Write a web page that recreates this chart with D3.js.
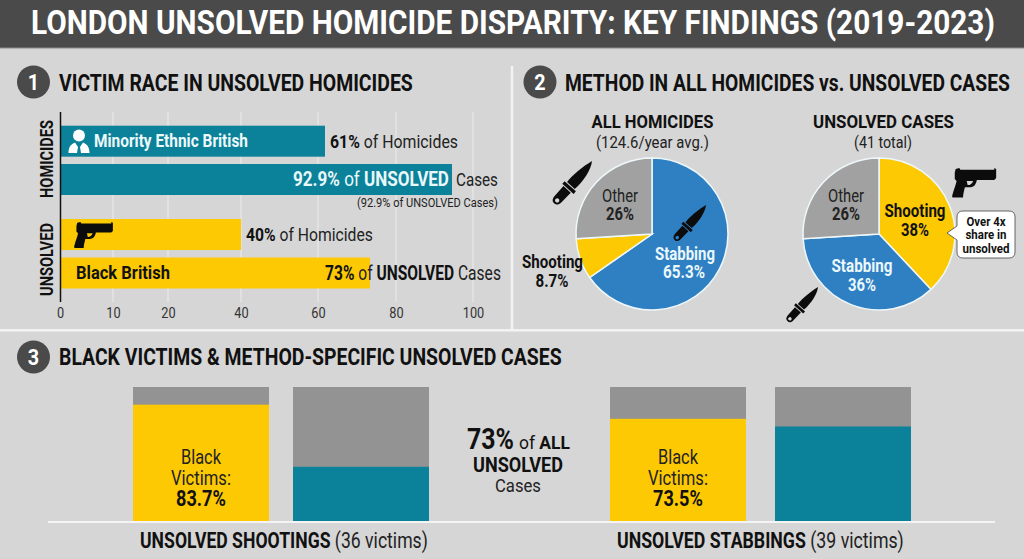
<!DOCTYPE html>
<html><head><meta charset="utf-8">
<script src="https://cdn.jsdelivr.net/npm/d3@7/dist/d3.min.js"></script>
<style>html,body{margin:0;padding:0;background:#d6d6d6}svg{display:block}text{font-family:Roboto,sans-serif}</style>
</head><body><svg id="c" width="1024" height="559"></svg>
<script>
// ---- data ----
const barLabels = ["Minority Ethnic British homicides","Minority Ethnic British unsolved","Black British homicides","Black British unsolved"];
const barValues = [61, 92.9, 40, 73];
const barTicks = [0, 10, 20, 40, 60, 80, 100];
const pieCategories = ["Stabbing", "Shooting", "Other"];
const pieAll = [65.3, 8.7, 26];
const pieUnsolvedCategories = ["Shooting", "Stabbing", "Other"];
const pieUnsolved = [38, 36, 26];
const blackShares = [83.7, 73.5];
const otherShares = [39, 68];

const TEAL="#0b8299", YEL="#fdc902", BLUE="#2f7fc3", GREY="#a1a1a1", GREY2="#939393", INK="#111";
const svg = d3.select("#c");
const pieColor = {Stabbing:BLUE, Shooting:YEL, Other:GREY};

// text helper: runs = [[string, weight]], fitted to a target width
function T(x, y, runs, o={}) {
  const g = svg.append("g").attr("transform", `translate(${x},${y})${o.rotate?` rotate(${o.rotate})`:""}`);
  const t = g.append("text").attr("font-size", o.size||14).attr("fill", o.fill||INK).attr("text-anchor", "start");
  (typeof runs === "string" ? [[runs, o.weight||400]] : runs).forEach(r => {
    t.append("tspan").text(r[0]).attr("font-weight", r[1]).attr("fill", r[2]||null);
  });
  const len = t.node().getComputedTextLength();
  const sx = o.width ? o.width/len : (o.sx||0.85);
  const w = len*sx;
  const dx = o.anchor==="middle" ? -w/2 : o.anchor==="end" ? -w : 0;
  t.attr("transform", `translate(${dx},0) scale(${sx},1)`);
  return t;
}
function badge(cx, cy, n){
  svg.append("circle").attr("cx",cx).attr("cy",cy).attr("r",16.5).attr("fill","#4a4a4a");
  T(cx, cy+8, String(n), {size:22, weight:700, fill:"#fff", anchor:"middle", sx:.9});
}
// icon outlines (tip of the knife at the origin, pointing up before rotation)
const KNIFE_BLADE="M0 0C5 7 7.5 20 6 33L-4.5 33C-5.5 25-3 10 0 0Z";
const KNIFE_GUARD="M-7 34H8.5V37.5H-7Z";
const KNIFE_HANDLE="M-4.5 38.5H5.5L5 52C5 56 3 58 0.5 58C-2.5 58-4.5 56-4.5 52ZM0.5 51.5A2.2 2.2 0 1 0 0.51 51.5Z";
function knife(x,y,s){
  const g=svg.append("g").attr("transform",`translate(${x},${y}) rotate(42) scale(${s})`).attr("fill","#0c0c0c");
  g.append("path").attr("d",KNIFE_BLADE);
  g.append("path").attr("d",KNIFE_GUARD);
  g.append("path").attr("d",KNIFE_HANDLE).attr("fill-rule","evenodd");
}
const GUN="M4 1L8 0 9 2 46 2 46 0 48 1 48 11 46 13 27 13C26 18 24 21 19 21L14 21C13 25 12 29 12 32L1 32C0 32 0 30 .5 29C2 23 4 19 5 14L3 12 3 5ZM16 14L23 14C22 17 20 18.5 17 18.5Z";
function gun(x,y,s){
  svg.append("path").attr("transform",`translate(${x},${y}) scale(${s})`).attr("d",GUN).attr("fill","#0c0c0c").attr("fill-rule","evenodd");
}

// ---- header ----
svg.append("rect").attr("width",1024).attr("height",48).attr("fill","#4a4a4a");
svg.append("rect").attr("y",47.5).attr("width",1024).attr("height",1).attr("fill","#8a8a8a");
T(31, 34, "LONDON UNSOLVED HOMICIDE DISPARITY: KEY FINDINGS (2019-2023)", {size:33.5, weight:700, fill:"#fff", width:964});

// ---- dividers ----
svg.append("rect").attr("x",0).attr("y",329).attr("width",1024).attr("height",2.6).attr("fill","#f2f2f2");
svg.append("rect").attr("x",510.7).attr("y",66).attr("width",2.6).attr("height",263).attr("fill","#f2f2f2");

// ---- section 1 ----
badge(33.5, 82, 1);
T(59, 91, "VICTIM RACE IN UNSOLVED HOMICIDES", {size:24, weight:700, width:354});

const x = d3.scaleLinear()
  .domain([0,10,20,40,60,61,73,80,92.9,100])
  .range([60,113,168,241,318,325,370,396,452,473]);
barTicks.slice(1).forEach(t => {
  svg.append("line").attr("x1",x(t)).attr("x2",x(t)).attr("y1",112).attr("y2",302).attr("stroke","#e4e4e4").attr("stroke-width",1.5);
});
const barTop = [125.7, 164, 219, 257.5];
const barG = svg.append("g");
barG.selectAll("rect").data(barValues).join("rect")
  .attr("x", x(0)).attr("y",(d,i)=>barTop[i]).attr("height",31)
  .attr("width", d=>x(d)-x(0)).attr("fill",(d,i)=>i<2?TEAL:YEL);
svg.append("line").attr("x1",60.5).attr("x2",60.5).attr("y1",112).attr("y2",302).attr("stroke","#111").attr("stroke-width",1.5);
const axis = d3.axisBottom(x).tickValues(barTicks).tickSize(0).tickPadding(0);
const ag = svg.append("g").attr("transform","translate(0,304)").call(axis);
ag.select(".domain").remove();
ag.selectAll("text").attr("font-size",14.5).attr("fill","#333").attr("font-family","Roboto").attr("y",4).attr("dy","0.71em").attr("transform","scale(.88,1)");

T(52.7, 198, "HOMICIDES", {size:19, weight:700, rotate:-90, width:78});
T(52.7, 296, "UNSOLVED", {size:19, weight:700, rotate:-90, width:73});

// person icon
const p = svg.append("g").attr("fill","#fff");
p.append("circle").attr("cx",79).attr("cy",135.5).attr("r",6);
p.append("path").attr("d","M68.5 153C68.5 147 71 144 75 142.5L78 147 77 153ZM89.5 153C89.5 147 87 144 83 142.5L80 147 81 153Z");

T(94, 147, "Minority Ethnic British", {size:19, weight:700, fill:"#eef9fb", width:154});
T(330, 147.5, [["61%",700],[" of Homicides",400,"#222"]], {size:19, width:128});
T(293, 186, [["92.9%",700,"#eaf8fb"],[" of ",400,"#eaf8fb"],["UNSOLVED",700,"#eaf8fb"]], {size:20, width:156});
T(456, 186, "Cases", {size:19, width:42, fill:"#222"});
T(357, 207, "(92.9% of UNSOLVED Cases)", {size:13.5, fill:"#222", width:141});
T(246, 241, [["40%",700],[" of Homicides",400,"#222"]], {size:19, width:127});
gun(74, 222, 0.81);
T(76, 279, "Black British", {size:19, weight:700, width:94});
T(325, 279.5, [["73%",700],[" of ",400,"#222"],["UNSOLVED",700],[" Cases",400,"#222"]], {size:20, width:176});

// ---- section 2 ----
badge(540, 82, 2);
T(565, 91, "METHOD IN ALL HOMICIDES vs. UNSOLVED CASES", {size:24, weight:700, width:445});

const arc = d3.arc().innerRadius(0).outerRadius(76);
const pie = d3.pie().sort(null).value(d=>d.v);
function drawPie(cx, cats, vals){
  const g = svg.append("g").attr("transform",`translate(${cx},234)`);
  g.selectAll("path").data(pie(cats.map((c,i)=>({c,v:vals[i]})))).join("path")
    .attr("d",arc).attr("fill",d=>pieColor[d.data.c]).attr("stroke","#eef8fb").attr("stroke-width",1.5);
}
drawPie(652, pieCategories, pieAll);
drawPie(879, pieUnsolvedCategories, pieUnsolved);

T(652.5, 128, "ALL HOMICIDES", {size:19, weight:700, anchor:"middle", width:122});
T(652.5, 147.5, "(124.6/year avg.)", {size:17, fill:"#222", anchor:"middle", width:113});
T(883.5, 128, "UNSOLVED CASES", {size:19, weight:700, anchor:"middle", width:141});
T(883, 147.5, "(41 total)", {size:17, fill:"#222", anchor:"middle", width:58});

T(620, 201.7, "Other", {size:17.5, fill:"#222", anchor:"middle", width:36});
T(620, 220, "26%", {size:17.5, weight:700, fill:"#222", anchor:"middle", width:28});
T(846, 201.7, "Other", {size:17.5, fill:"#222", anchor:"middle", width:36});
T(846, 220, "26%", {size:17.5, weight:700, fill:"#222", anchor:"middle", width:28});
T(685, 260, "Stabbing", {size:18.5, weight:700, fill:"#eaf8fb", anchor:"middle", width:60});
T(684, 277.7, "65.3%", {size:18.5, weight:700, fill:"#eaf8fb", anchor:"middle", width:42});
T(552.5, 268, "Shooting", {size:18.5, weight:700, anchor:"middle", width:61});
T(552, 287, "8.7%", {size:18, weight:700, anchor:"middle", width:33});
T(915, 216.7, "Shooting", {size:18.5, weight:700, anchor:"middle", width:61});
T(915, 235.6, "38%", {size:18.5, weight:700, anchor:"middle", width:28});
T(862, 272, "Stabbing", {size:18.5, weight:700, fill:"#eaf8fb", anchor:"middle", width:61});
T(862, 290.6, "36%", {size:18.5, weight:700, fill:"#eaf8fb", anchor:"middle", width:28});

knife(706, 205, 0.81);
knife(592, 161, 0.98);
knife(818, 287, 0.79);
gun(952, 168, 0.92);

// callout
svg.append("path").attr("d","M963 211H1009Q1015 211 1015 217V252Q1015 258 1009 258H963Q957 258 957 252V240L947 233 957 226V217Q957 211 963 211Z")
  .attr("fill","#fff").attr("stroke","#444").attr("stroke-width",0.8);
T(986, 226, "Over 4x", {size:13.5, weight:700, anchor:"middle", width:39});
T(986, 239, "share in", {size:13.5, weight:700, anchor:"middle", width:41});
T(986, 252.7, "unsolved", {size:13.5, weight:700, anchor:"middle", width:47});

// ---- section 3 ----
badge(33.5, 357, 3);
T(59, 365, "BLACK VICTIMS & METHOD-SPECIFIC UNSOLVED CASES", {size:24, weight:700, width:503});

const y = d3.scaleLinear().domain([0,96.4]).range([521,387]);
const xLeft = [133, 610], xRight = [293, 775], barW = 136;
const s3 = svg.append("g");
s3.selectAll("rect.g1").data(blackShares).join("rect").attr("class","g1")
  .attr("x",(d,i)=>xLeft[i]).attr("y",y(96.4)).attr("width",barW).attr("height",y(0)-y(96.4)).attr("fill",GREY2);
s3.selectAll("rect.g2").data(otherShares).join("rect").attr("class","g2")
  .attr("x",(d,i)=>xRight[i]).attr("y",y(96.4)).attr("width",barW).attr("height",y(0)-y(96.4)).attr("fill",GREY2);
s3.selectAll("rect.y").data(blackShares).join("rect").attr("class","y")
  .attr("x",(d,i)=>xLeft[i]).attr("y",d=>y(d)).attr("width",barW).attr("height",d=>y(0)-y(d)).attr("fill",YEL);
s3.selectAll("rect.t").data(otherShares).join("rect").attr("class","t")
  .attr("x",(d,i)=>xRight[i]).attr("y",d=>y(d)).attr("width",barW).attr("height",d=>y(0)-y(d)).attr("fill",TEAL);
svg.append("rect").attr("x",48).attr("y",521).attr("width",947).attr("height",2).attr("fill","#f4f4f4");

blackShares.forEach((v,i)=>{
  const cx = xLeft[i]+barW/2;
  T(cx, 464, "Black", {size:20, fill:"#222", anchor:"middle", width:40});
  T(cx, 484.5, "Victims:", {size:20, fill:"#222", anchor:"middle", width:60});
  T(cx, 505.5, v+"%", {size:22, weight:700, anchor:"middle", width:50});
});

T(467, 449, [["73%",700]], {size:29.5, width:47});
T(519, 449, [["of ",400],["ALL",700]], {size:19, width:51});
T(518, 472, "UNSOLVED", {size:20, weight:700, anchor:"middle", width:90});
T(518, 491.7, "Cases", {size:18, fill:"#222", anchor:"middle", width:46});

T(140, 547.5, [["UNSOLVED SHOOTINGS",700],[" (36 victims)",400,"#222"]], {size:22, width:288});
T(617, 547.5, [["UNSOLVED STABBINGS",700],[" (39 victims)",400,"#222"]], {size:22, width:287});
</script></body></html>
